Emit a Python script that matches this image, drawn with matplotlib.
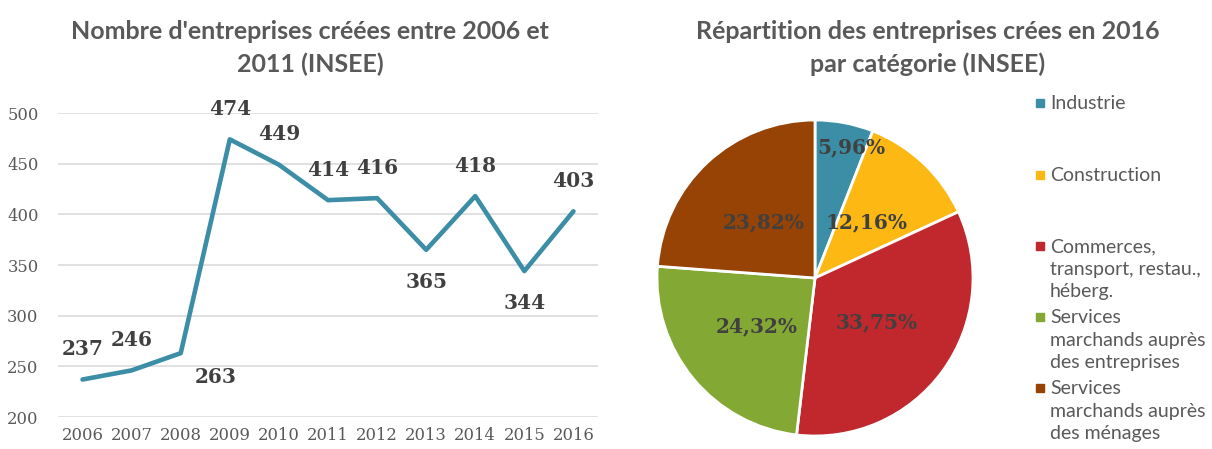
import matplotlib
matplotlib.use("Agg")
import matplotlib.pyplot as plt
from matplotlib.patches import Rectangle
import numpy as np

# data
years = [2006, 2007, 2008, 2009, 2010, 2011, 2012, 2013, 2014, 2015, 2016]
creations = [237, 246, 263, 474, 449, 414, 416, 365, 418, 344, 403]
# where the data label sits: above / below / below-right
label_pos = ['up', 'up', 'below_right', 'up', 'up', 'up', 'up', 'down', 'up', 'down', 'up']

categories = ['Industrie', 'Construction', 'Commerces,\ntransport, restau.,\nhéberg.',
              'Services\nmarchands auprès\ndes entreprises', 'Services\nmarchands auprès\ndes ménages']
parts = [5.96, 12.16, 33.75, 24.32, 23.82]
colors = ['#3B8EA5', '#FDB814', '#C0282D', '#84A834', '#964305']

line_color = '#3C8DA6'
txt_gray = '#595959'
lab_gray = '#404040'

W, H = 1212, 449
fig = plt.figure(figsize=(W / 100, H / 100), dpi=100)

# ---- line chart
ax = fig.add_axes([58 / W, 32 / H, (598 - 58) / W, (417 - 113) / H])
ax.plot(years, creations, color=line_color, lw=3.3, solid_capstyle='round', clip_on=False, zorder=3)
ax.set_xlim(2005.5, 2016.5)
ax.set_ylim(200, 500)
ax.set_yticks(range(200, 501, 50))
ax.set_xticks(years)
ax.grid(axis='y', color='#D9D9D9', lw=1.1)
ax.set_axisbelow(True)
for s in ax.spines.values():
    s.set_visible(False)
ax.tick_params(length=0, labelsize=11.8, labelcolor=txt_gray, pad=7)
ax.tick_params(axis='y', pad=14)
for t in ax.get_xticklabels() + ax.get_yticklabels():
    t.set_family('DejaVu Serif')

offsets = {'up': (0, 22), 'down': (0, -23), 'below_right': (25, -17)}
for x, y, p in zip(years, creations, label_pos):
    ax.annotate(str(y), (x, y), xytext=offsets[p], textcoords='offset points',
                ha='center', va='center', fontsize=14.5, fontweight='bold',
                family='DejaVu Serif', color=lab_gray, annotation_clip=False)

fig.text(310 / W, 1 - 48 / H, "Nombre d'entreprises créées entre 2006 et\n2011 (INSEE)",
         ha='center', va='center', fontsize=18, fontweight='bold', family='Lato',
         color=txt_gray, linespacing=1.45)

# ---- pie chart
cx, cy, r = 815, 278, 158
pax = fig.add_axes([(cx - r) / W, (H - cy - r) / H, 2 * r / W, 2 * r / H])
wedges, _ = pax.pie(parts, colors=colors, startangle=90, counterclock=False,
                    wedgeprops=dict(edgecolor='white', linewidth=2))
pax.set_xlim(-1, 1)
pax.set_ylim(-1, 1)
pax.set_aspect('equal')

for i, (w, v) in enumerate(zip(wedges, parts)):
    mid = (w.theta1 + w.theta2) / 2
    if i == 0:
        # small slice: Excel pushes the label out towards the edge
        d, ang = 0.86, np.deg2rad(mid - 5)
    else:
        d, ang = 0.48, np.deg2rad(mid)
    pax.text(d * np.cos(ang), d * np.sin(ang), f"{v:.2f}%".replace('.', ','),
             ha='center', va='center', fontsize=14.5, fontweight='bold',
             family='DejaVu Serif', color=lab_gray)

fig.text(928 / W, 1 - 48 / H, "Répartition des entreprises crées en 2016\npar catégorie (INSEE)",
         ha='center', va='center', fontsize=18, fontweight='bold', family='Lato',
         color=txt_gray, linespacing=1.45)

# legend, drawn by hand (Excel spacing)
leg_y = [103, 175, 246, 317, 388]
for lab, c, y in zip(categories, colors, leg_y):
    fig.patches.append(Rectangle((1036 / W, 1 - (y + 4) / H), 8 / W, 8 / H,
                                 transform=fig.transFigure, color=c, figure=fig))
    fig.text(1050 / W, 1 - (y - 8) / H, lab, ha='left', va='top', fontsize=14,
             family='Lato', color=txt_gray, linespacing=1.4)

fig.savefig('out.png', dpi=100)
